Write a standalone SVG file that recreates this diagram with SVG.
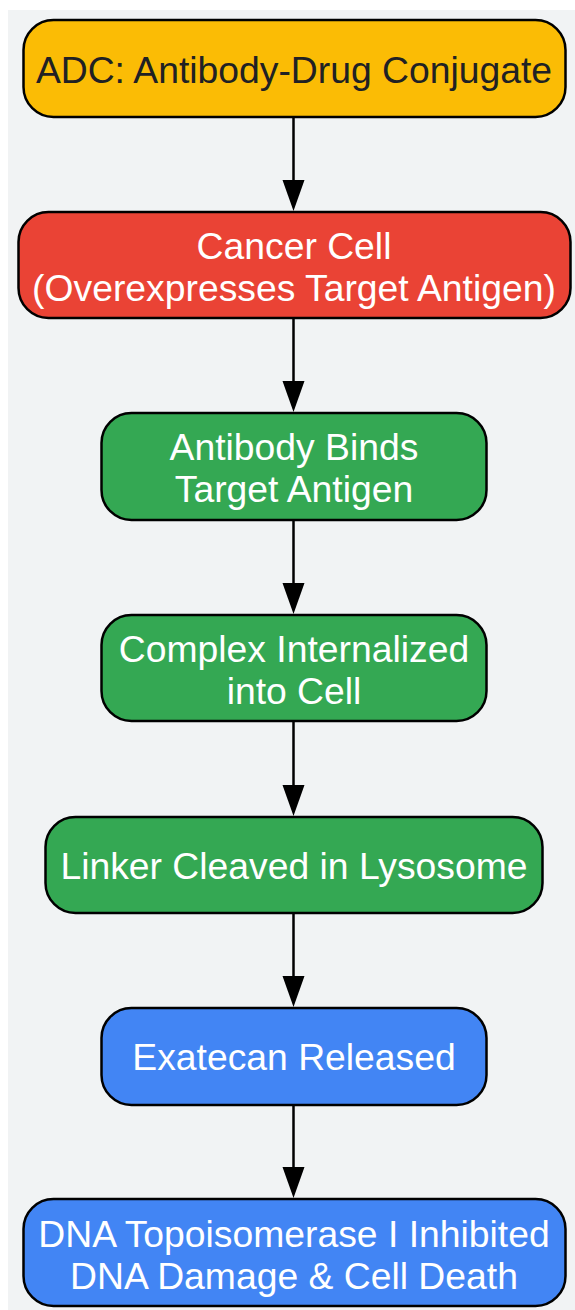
<svg xmlns="http://www.w3.org/2000/svg" width="575" height="1310" viewBox="0 0 575 1310">
<style>
.n{stroke:#000;stroke-width:2.5}
.t{font-family:"Liberation Sans",Arial,sans-serif;font-size:37.3px;text-anchor:middle;fill:#fff}
.e{stroke:#000;stroke-width:2.5;fill:none}
.h{fill:#000}
</style>
<rect x="8" y="10" width="567" height="1300" fill="#F1F3F4"/>
<g id="edges">
<line class="e" x1="293.5" y1="117" x2="293.5" y2="181"/>
<path class="h" d="M282.5,180 L304.5,180 L293.5,211 Z"/>
<line class="e" x1="293.5" y1="318" x2="293.5" y2="382"/>
<path class="h" d="M282.5,381 L304.5,381 L293.5,412 Z"/>
<line class="e" x1="293.5" y1="520" x2="293.5" y2="584"/>
<path class="h" d="M282.5,583 L304.5,583 L293.5,614 Z"/>
<line class="e" x1="293.5" y1="721" x2="293.5" y2="786"/>
<path class="h" d="M282.5,785 L304.5,785 L293.5,816 Z"/>
<line class="e" x1="293.5" y1="913" x2="293.5" y2="977"/>
<path class="h" d="M282.5,976 L304.5,976 L293.5,1007 Z"/>
<line class="e" x1="293.5" y1="1105" x2="293.5" y2="1168"/>
<path class="h" d="M282.5,1167 L304.5,1167 L293.5,1198 Z"/>
</g>
<g id="n1">
<rect class="n" x="23.5" y="20" width="542" height="97" rx="30" fill="#FBBC05"/>
<text class="t" x="294" y="83" style="fill:#202124">ADC: Antibody-Drug Conjugate</text>
</g>
<g id="n2">
<rect class="n" x="18.5" y="212" width="552" height="106" rx="30" fill="#EA4335"/>
<text class="t" x="294" y="259">Cancer Cell</text>
<text class="t" x="294" y="301">(Overexpresses Target Antigen)</text>
</g>
<g id="n3">
<rect class="n" x="101.5" y="413" width="385" height="107" rx="30" fill="#34A853"/>
<text class="t" x="294" y="460">Antibody Binds</text>
<text class="t" x="294" y="502">Target Antigen</text>
</g>
<g id="n4">
<rect class="n" x="101.5" y="615" width="385" height="106" rx="30" fill="#34A853"/>
<text class="t" x="294" y="662">Complex Internalized</text>
<text class="t" x="294" y="704">into Cell</text>
</g>
<g id="n5">
<rect class="n" x="45.5" y="817" width="497" height="96" rx="30" fill="#34A853"/>
<text class="t" x="294" y="879">Linker Cleaved in Lysosome</text>
</g>
<g id="n6">
<rect class="n" x="101.5" y="1008" width="385" height="97" rx="30" fill="#4285F4"/>
<text class="t" x="294" y="1070">Exatecan Released</text>
</g>
<g id="n7">
<rect class="n" x="23.5" y="1199" width="542" height="107" rx="30" fill="#4285F4"/>
<text class="t" x="294" y="1247">DNA Topoisomerase I Inhibited</text>
<text class="t" x="294" y="1289">DNA Damage &amp; Cell Death</text>
</g>
</svg>
